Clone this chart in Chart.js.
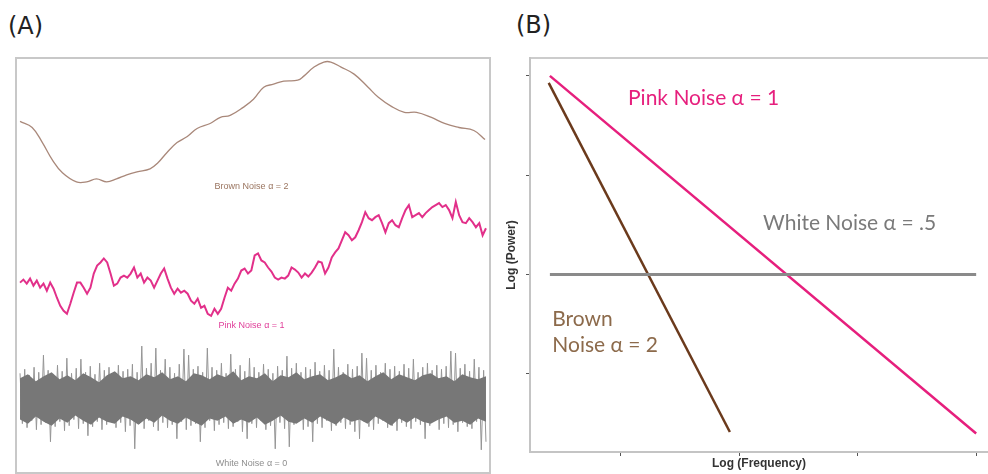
<!DOCTYPE html>
<html lang="en">
<head>
  <meta charset="UTF-8">
  <title>Noise colours: time series and spectra</title>
  <script src="https://cdn.jsdelivr.net/npm/chart.js"></script>
  <style>
    body { margin: 0; background: #fff; width: 988px; height: 474px; position: relative; overflow: hidden; font-family: "DejaVu Sans", sans-serif; }
    .tag { position: absolute; font-size: 24px; color: #222; }
    #frameA { position: absolute; left: 15px; top: 57px; width: 472px; height: 413px; border: 2px solid #c8c8c8; }
    #boxA { position: absolute; left: 17px; top: 59px; width: 472px; height: 413px; }
    #boxB { position: absolute; left: 490px; top: 50px; width: 498px; height: 424px; }
  </style>
</head>
<body>
  <div class="tag" style="left:8px; top:12px;">(A)</div>
  <div class="tag" style="left:516px; top:11px;">(B)</div>
  <div id="frameA"></div>
  <div id="boxA"><canvas id="seriesChart"></canvas></div>
  <div id="boxB"><canvas id="spectrumChart"></canvas></div>

  <script>
    // ---- (A) time series, amplitude in arbitrary units, time 0..100 ----
    const brownTime = [0, 2.6, 4.8, 6.9, 9.1, 12.1, 14.3, 16.4, 18.6, 20.7, 22.9, 25.1, 27.9, 29.6, 31.5,
      33.7, 35.9, 38.0, 40.8, 43.0, 45.1, 47.9, 50.1, 52.3, 54.4, 56.6, 59.6, 60.9, 63.1, 65.2, 66.7,
      68.9, 71.7, 74.7, 76.9, 79.7, 82.5, 85.1, 88.3, 91.1, 94.2, 97.4, 99.8];
    const brownLevel = [350, 344, 329, 312, 299, 290, 290, 293, 290, 293, 297, 300, 303, 309, 319,
      329, 335, 343, 348, 354, 356, 364, 372, 384, 387, 390, 391, 395, 404, 409, 409,
      404, 397, 384, 374, 365, 359, 359, 354, 348, 344, 341, 332];

    const pinkLevel = [190, 193, 189, 194, 187, 192, 185, 189, 182, 190, 184, 175, 167, 162, 159,
      169, 180, 190, 190, 185, 179, 185, 199, 207, 210, 214, 210, 199, 187, 189,
      195, 197, 195, 199, 205, 195, 199, 190, 195, 192, 185, 192, 199, 204, 194,
      185, 179, 184, 180, 182, 179, 172, 169, 174, 165, 167, 159, 157, 164, 159,
      164, 175, 185, 182, 189, 194, 202, 204, 199, 202, 217, 219, 212, 210, 205,
      201, 195, 193, 195, 194, 197, 205, 203, 200, 195, 199, 196, 200, 205, 211,
      210, 199, 205, 215, 220, 224, 232, 240, 237, 232, 235, 242, 250, 260, 254,
      252, 255, 257, 249, 240, 249, 252, 247, 245, 254, 262, 267, 255, 257, 259,
      255, 259, 262, 265, 267, 269, 265, 267, 262, 254, 270, 257, 250, 249, 254,
      250, 245, 249, 237, 244];

    // white noise: spike tips above / below, and the dense core band
    const whiteHigh = [100, 104, 98, 106, 101, 118, 103, 99, 108, 102, 115, 100, 105, 114, 101, 107, 99, 110, 103, 106,
      100, 108, 102, 104, 109, 101, 127, 105, 110, 125, 103, 114, 106, 100, 109, 124, 118, 104, 107, 101,
      125, 106, 103, 110, 100, 119, 104, 108, 102, 115, 106, 101, 109, 104, 100, 107, 103, 117, 105, 110,
      101, 106, 104, 111, 102, 108, 103, 124, 106, 101, 109, 104, 107, 120, 115, 103, 108, 101, 110, 104,
      107, 102, 109, 105, 114, 101, 106, 110, 103, 108, 104, 107, 122, 120, 105, 109, 102, 114, 106, 103];
    const whiteLow = [50, 46, 53, 44, 49, 51, 32, 47, 52, 43, 48, 54, 45, 50, 38, 47, 52, 44, 49, 53,
      46, 51, 42, 48, 25, 50, 45, 53, 47, 43, 51, 46, 49, 35, 52, 44, 48, 50, 32, 46,
      53, 43, 49, 51, 45, 47, 52, 42, 35, 50, 46, 53, 44, 48, 25, 51, 45, 27, 49, 52,
      44, 47, 32, 50, 46, 53, 43, 48, 51, 45, 49, 42, 35, 52, 47, 44, 50, 53, 46, 48,
      43, 51, 47, 45, 52, 49, 35, 48, 53, 44, 50, 46, 49, 42, 51, 47, 45, 52, 24, 32];
    const whiteCoreTop = [95, 99, 92, 97, 101, 94, 98, 93, 100, 96, 91, 98, 102, 95, 97, 93, 99, 96, 101, 94,
      97, 92, 100, 98, 94, 99, 96, 102, 93, 97, 95, 100, 92, 98, 96, 101, 94, 97, 99, 93,
      96, 100, 95, 98, 92, 97, 101, 94, 99, 96, 93, 98, 100, 95, 97, 92, 99, 96, 94, 97];
    const whiteCoreBottom = [54, 50, 57, 52, 48, 55, 51, 58, 53, 49, 56, 52, 50, 57, 54, 49, 55, 51, 58, 53,
      50, 56, 52, 48, 55, 53, 57, 50, 54, 51, 56, 49, 53, 58, 52, 50, 55, 51, 57, 53,
      49, 56, 52, 54, 50, 57, 53, 48, 55, 51, 56, 52, 50, 54, 57, 51, 53, 49, 55, 52];

    // ---- (B) log-log spectra ----
    const pinkFreq = [0.40, 4.00];
    const pinkPower = [4.00, 0.40];
    const brownFreq = [0.39, 1.92];
    const brownPower = [3.93, 0.415];
    const whiteFreq = [0.40, 4.00];
    const whitePower = [2.00, 2.00];
    const freqTicks = [1, 2, 3, 4];
    const powerTicks = [1, 2, 3, 4];

    // small text labels placed in data coordinates
    const noteLabels = {
      id: 'noteLabels',
      afterDatasetsDraw(chart, args, opts) {
        const ctx = chart.ctx;
        const xs = chart.scales.x, ys = chart.scales.y;
        ctx.save();
        ctx.textBaseline = 'middle';
        (opts.items || []).forEach(n => {
          ctx.font = n.font;
          ctx.fillStyle = n.color;
          ctx.textAlign = n.align || 'center';
          ctx.fillText(n.text, xs.getPixelForValue(n.x), ys.getPixelForValue(n.y));
        });
        ctx.restore();
      }
    };

    // building point lists from the arrays
    const spread = (arr) => arr.map((v, i) => ({ x: i / (arr.length - 1) * 100, y: v }));
    const brownPts = brownTime.map((t, i) => ({ x: t, y: brownLevel[i] }));
    const pinkPts = spread(pinkLevel);
    const whitePts = [];
    const nW = whiteHigh.length * 2 - 1;
    whiteHigh.forEach((hi, i) => {
      whitePts.push({ x: (2 * i) / nW * 100, y: hi });
      whitePts.push({ x: (2 * i + 1) / nW * 100, y: whiteLow[i] });
    });

    const smallFont = '9px "Liberation Sans", Arial, sans-serif';

    new Chart(document.getElementById('seriesChart'), {
      type: 'line',
      data: {
        datasets: [
          { label: 'Brown Noise', data: brownPts, borderColor: '#a9887a', borderWidth: 1.3, tension: 0.4 },
          { label: 'Pink Noise', data: pinkPts, borderColor: '#e2308a', borderWidth: 2, tension: 0 },
          { label: 'White core top', data: spread(whiteCoreTop), borderWidth: 0, borderColor: 'rgba(0,0,0,0)',
            backgroundColor: '#777777', fill: '+1', tension: 0 },
          { label: 'White core bottom', data: spread(whiteCoreBottom), borderWidth: 0, borderColor: 'rgba(0,0,0,0)', tension: 0 },
          { label: 'White Noise', data: whitePts, borderColor: '#959595', borderWidth: 1, tension: 0 }
        ]
      },
      options: {
        responsive: true,
        maintainAspectRatio: false,
        animation: false,
        elements: { point: { radius: 0 } },
        layout: { padding: 0 },
        scales: {
          x: { type: 'linear', display: false, min: -0.65, max: 100.65 },
          y: { display: false, min: 2, max: 412 }
        },
        plugins: {
          legend: { display: false },
          tooltip: { enabled: false },
          noteLabels: {
            items: [
              { text: 'Brown Noise \u03b1 = 2', x: 49.7, y: 285.5, font: smallFont, color: '#9a7560' },
              { text: 'Pink Noise \u03b1 = 1', x: 49.7, y: 147, font: smallFont, color: '#e0409a' },
              { text: 'White Noise \u03b1 = 0', x: 49.7, y: 10.5, font: smallFont, color: '#8e8e8e' }
            ]
          }
        }
      },
      plugins: [noteLabels]
    });

    const bigFont = '21px Lato, "Open Sans", sans-serif';

    new Chart(document.getElementById('spectrumChart'), {
      type: 'line',
      data: {
        datasets: [
          { label: 'White', data: whiteFreq.map((f, i) => ({ x: f, y: whitePower[i] })), borderColor: '#8a8a8a', borderWidth: 3 },
          { label: 'Brown', data: brownFreq.map((f, i) => ({ x: f, y: brownPower[i] })), borderColor: '#6b3a1c', borderWidth: 2.5 },
          { label: 'Pink', data: pinkFreq.map((f, i) => ({ x: f, y: pinkPower[i] })), borderColor: '#e61f7d', borderWidth: 2.5 }
        ]
      },
      options: {
        responsive: true,
        maintainAspectRatio: false,
        animation: false,
        elements: { point: { radius: 0 } },
        layout: { padding: { top: 8, left: 0, right: 0, bottom: 0 } },
        scales: {
          x: {
            type: 'linear', min: 0.232, max: 4.10,
            afterBuildTicks: s => { s.ticks = freqTicks.map(v => ({ value: v })); },
            afterFit: s => { s.height = 22; },
            ticks: { display: false },
            grid: { drawOnChartArea: false, tickLength: 4, tickColor: '#555' },
            border: { color: '#c4c4c4', width: 2 },
            title: { display: true, text: 'Log (Frequency)', color: '#333', padding: { top: 0, bottom: 3 },
              font: { family: '"Liberation Sans", Arial, sans-serif', size: 12, weight: 'bold' } }
          },
          x2: {
            type: 'linear', position: 'top', min: 0.232, max: 4.10,
            afterFit: s => { s.height = 0; },
            ticks: { display: false },
            grid: { display: false },
            border: { color: '#cccccc', width: 2 }
          },
          y: {
            min: 0.214, max: 4.18,
            afterBuildTicks: s => { s.ticks = powerTicks.map(v => ({ value: v })); },
            afterFit: s => { s.width = 40; },
            ticks: { display: false },
            grid: { drawOnChartArea: false, tickLength: 4, tickColor: '#555' },
            border: { color: '#c4c4c4', width: 2 },
            title: { display: true, text: 'Log (Power)', color: '#333', padding: { top: 14, bottom: 0 },
              font: { family: '"Liberation Sans", Arial, sans-serif', size: 12, weight: 'bold' } }
          }
        },
        plugins: {
          legend: { display: false },
          tooltip: { enabled: false },
          noteLabels: {
            items: [
              { text: 'Pink Noise \u03b1 = 1', x: 1.06, y: 3.77, font: bigFont, color: '#e61f7d', align: 'left' },
              { text: 'White Noise \u03b1 = .5', x: 2.20, y: 2.52, font: bigFont, color: '#7a7a7a', align: 'left' },
              { text: 'Brown', x: 0.42, y: 1.55, font: bigFont, color: '#8c6a4b', align: 'left' },
              { text: 'Noise \u03b1 = 2', x: 0.42, y: 1.29, font: bigFont, color: '#8c6a4b', align: 'left' }
            ]
          }
        }
      },
      plugins: [noteLabels]
    });
  </script>
</body>
</html>
